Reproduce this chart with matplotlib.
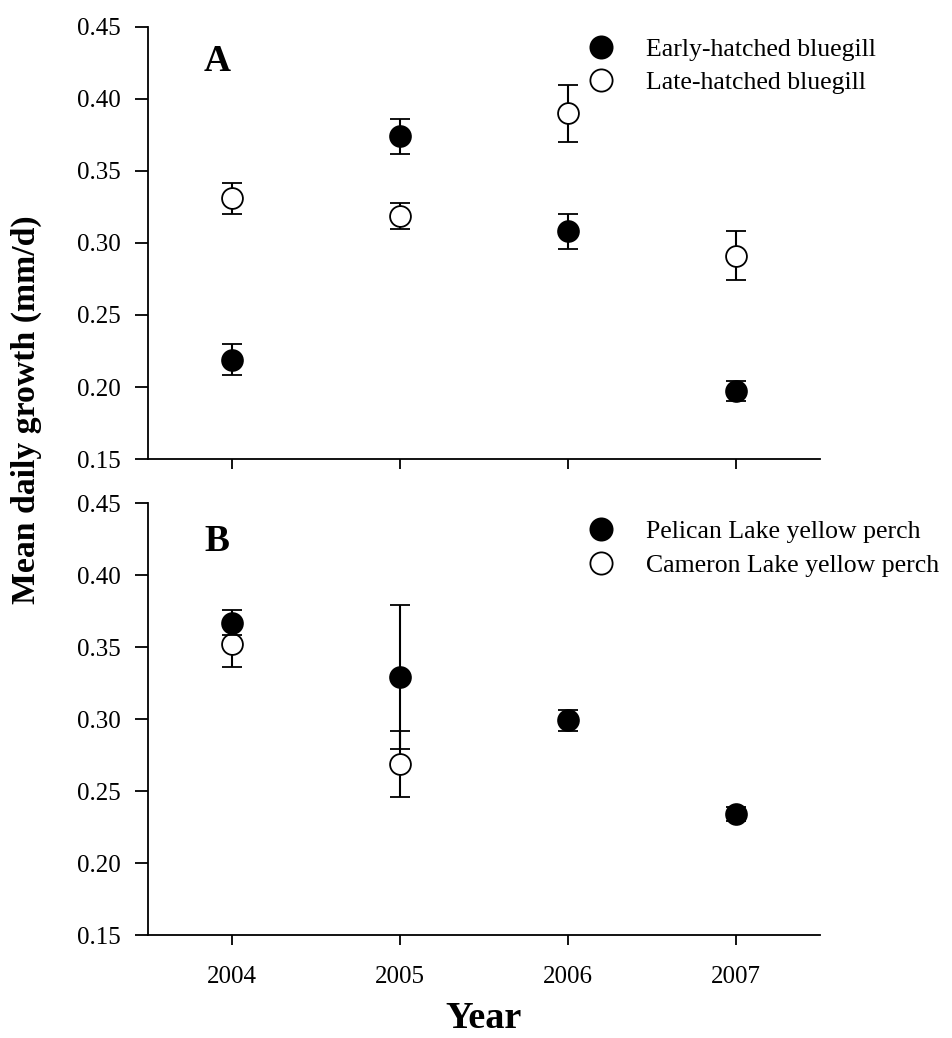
import matplotlib
matplotlib.use("Agg")
import matplotlib.pyplot as plt

years = [2004, 2005, 2006, 2007]

# panel A - bluegill
early_mean = [0.219, 0.374, 0.308, 0.197]
early_se = [0.011, 0.012, 0.012, 0.007]
late_mean = [0.331, 0.319, 0.390, 0.291]
late_se = [0.011, 0.009, 0.020, 0.017]

# panel B - yellow perch
pelican_years = [2004, 2005, 2006, 2007]
pelican_mean = [0.367, 0.329, 0.299, 0.234]
pelican_se = [0.009, 0.050, 0.007, 0.005]
cameron_years = [2004, 2005]
cameron_mean = [0.352, 0.269]
cameron_se = [0.016, 0.023]

yticks = [0.15, 0.20, 0.25, 0.30, 0.35, 0.40, 0.45]

plt.rcParams['font.family'] = ['Liberation Serif', 'DejaVu Serif']

fig = plt.figure(figsize=(9.52, 10.38), dpi=100)
fig.set_facecolor('white')
ax1 = fig.add_axes([0.1555, 0.5578, 0.7059, 0.4162])
ax2 = fig.add_axes([0.1555, 0.0992, 0.7059, 0.4162])

eb = dict(fmt='o', ms=15, mec='black', mew=1.3, ecolor='black',
          elinewidth=1.5, capsize=7.2, capthick=1.5)


def style(ax):
    ax.set_xlim(2003.5, 2007.5)
    ax.set_ylim(0.15, 0.45)
    ax.set_yticks(yticks)
    ax.set_yticklabels(['%.2f' % t for t in yticks])
    ax.set_xticks(years)
    for s in ['top', 'right']:
        ax.spines[s].set_visible(False)
    for s in ['left', 'bottom']:
        ax.spines[s].set_linewidth(1.3)
    ax.tick_params(direction='out', width=1.3, labelsize=18)
    ax.tick_params(axis='y', length=9.5, pad=10)
    ax.tick_params(axis='x', length=7)


ax1.errorbar(years, early_mean, yerr=early_se, mfc='black', label='Early-hatched bluegill', **eb)
ax1.errorbar(years, late_mean, yerr=late_se, mfc='white', label='Late-hatched bluegill', **eb)
style(ax1)
ax1.set_xticklabels([])
ax1.text(0.103, 0.921, 'A', transform=ax1.transAxes, fontsize=27, fontweight='bold',
         ha='center', va='center')

ax2.errorbar(cameron_years, cameron_mean, yerr=cameron_se, mfc='white',
             label='Cameron Lake yellow perch', zorder=2, **eb)
ax2.errorbar(pelican_years, pelican_mean, yerr=pelican_se, mfc='black',
             label='Pelican Lake yellow perch', zorder=3, **eb)
style(ax2)
ax2.set_xticklabels([str(y) for y in years])
ax2.tick_params(axis='x', pad=15)
ax2.text(0.103, 0.912, 'B', transform=ax2.transAxes, fontsize=27, fontweight='bold',
         ha='center', va='center')

for ax, order, top in [(ax1, [0, 1], 0.974), (ax2, [1, 0], 0.960)]:
    h, l = ax.get_legend_handles_labels()
    h = [hh[0] for hh in h]
    leg = ax.legend([h[i] for i in order], [l[i] for i in order], loc='upper left',
                    bbox_to_anchor=(0.6548, top), frameon=False, fontsize=18.5,
                    handlelength=1.0, handletextpad=1.25, labelspacing=0.4,
                    borderpad=0, borderaxespad=0, markerscale=16 / 15)

fig.text(0.028, 1 - 410 / 1038, 'Mean daily growth (mm/d)', rotation=90, fontsize=24.3,
         fontweight='bold', ha='center', va='center')
fig.text(0.508, 1 - 1028 / 1038, 'Year', fontsize=27.5, fontweight='bold',
         ha='center', va='baseline')

fig.savefig('out.png', dpi=100, facecolor='white')
